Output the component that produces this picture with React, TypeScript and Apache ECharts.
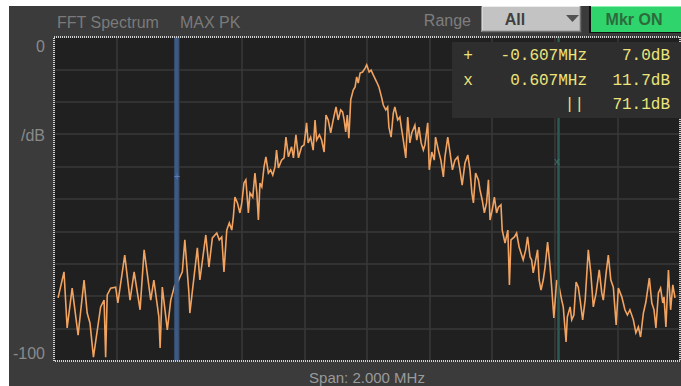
import React, { useEffect, useRef } from "react";
import * as echarts from "echarts";

// Spectrum trace (frequency offset in MHz, level in dB)
const freqMHz: number[] = [
  -0.987,-0.968,-0.958,-0.942,-0.923,-0.904,-0.894,-0.885,-0.874,-0.851,
  -0.840,-0.835,-0.830,-0.819,-0.803,-0.796,-0.774,-0.757,-0.744,-0.725,
  -0.712,-0.691,-0.681,-0.665,-0.661,-0.654,-0.638,-0.627,-0.614,-0.606,
  -0.590,-0.582,-0.569,-0.566,-0.542,-0.534,-0.515,-0.505,-0.494,-0.480,
  -0.472,-0.464,-0.457,-0.448,-0.440,-0.432,-0.427,-0.422,-0.414,-0.406,
  -0.400,-0.393,-0.387,-0.379,-0.374,-0.365,-0.358,-0.352,-0.347,-0.342,
  -0.336,-0.329,-0.323,-0.315,-0.308,-0.301,-0.294,-0.289,-0.283,-0.273,
  -0.265,-0.259,-0.251,-0.241,-0.235,-0.227,-0.219,-0.209,-0.201,-0.193,
  -0.188,-0.180,-0.172,-0.166,-0.161,-0.152,-0.145,-0.137,-0.131,-0.124,
  -0.116,-0.108,-0.099,-0.092,-0.084,-0.078,-0.073,-0.068,-0.063,-0.058,
  -0.052,-0.044,-0.038,-0.033,-0.028,-0.022,-0.014,-0.006,-0.001,0.007,
  0.013,0.020,0.031,0.038,0.047,0.052,0.060,0.066,0.070,0.077,
  0.084,0.089,0.098,0.105,0.111,0.116,0.124,0.130,0.137,0.143,
  0.153,0.159,0.166,0.173,0.180,0.185,0.194,0.199,0.207,0.215,
  0.219,0.228,0.236,0.244,0.249,0.258,0.265,0.273,0.281,0.290,
  0.297,0.304,0.313,0.322,0.329,0.335,0.340,0.347,0.356,0.361,
  0.368,0.375,0.382,0.388,0.393,0.400,0.407,0.414,0.420,0.428,
  0.432,0.441,0.450,0.455,0.460,0.471,0.478,0.486,0.492,0.499,
  0.507,0.513,0.521,0.526,0.531,0.539,0.545,0.550,0.556,0.563,
  0.569,0.577,0.585,0.590,0.597,0.606,0.614,0.622,0.627,0.636,
  0.640,0.649,0.654,0.661,0.668,0.675,0.681,0.689,0.697,0.707,
  0.715,0.723,0.732,0.742,0.750,0.755,0.764,0.771,0.779,0.787,
  0.796,0.803,0.814,0.824,0.832,0.840,0.851,0.859,0.867,0.874,
  0.883,0.891,0.902,0.910,0.917,0.923,0.931,0.938,0.945,0.949,
  0.955,0.963,0.970,0.977,0.984,
];

const levelDb: number[] = [
  -80.5,-72.5,-89.8,-77.5,-92.0,-75.0,-85.2,-88.3,-98.8,-83.3,
  -81.2,-98.8,-79.6,-77.5,-77.2,-82.1,-67.3,-81.2,-72.5,-84.2,
  -65.7,-81.2,-75.0,-86.4,-96.0,-77.2,-90.4,-81.2,-76.5,-75.9,
  -72.5,-62.6,-79.0,-85.2,-65.1,-75.0,-61.1,-71.0,-62.0,-60.5,
  -62.6,-61.7,-72.5,-59.6,-57.4,-59.6,-55.5,-49.4,-51.2,-54.3,
  -51.2,-45.1,-44.1,-54.3,-48.1,-49.4,-42.0,-48.1,-56.5,-45.1,
  -46.3,-40.1,-37.0,-42.0,-41.0,-42.6,-40.1,-34.9,-40.4,-38.0,
  -37.3,-30.9,-37.0,-33.9,-37.3,-30.2,-37.3,-33.9,-33.3,-26.5,
  -32.7,-30.9,-34.9,-25.6,-31.8,-30.2,-31.8,-35.5,-24.1,-25.6,
  -29.6,-25.6,-21.6,-25.6,-22.5,-23.1,-25.6,-29.3,-24.1,-31.2,
  -19.4,-16.4,-15.4,-12.3,-14.2,-11.1,-10.8,-9.6,-8.6,-10.8,
  -10.2,-11.7,-13.9,-15.4,-18.8,-21.0,-22.5,-21.6,-27.8,-30.9,
  -23.5,-21.6,-25.6,-24.7,-28.7,-31.8,-37.3,-24.7,-32.7,-29.6,
  -27.2,-31.8,-27.8,-32.7,-34.9,-33.3,-26.5,-41.0,-35.5,-38.0,
  -30.9,-34.9,-38.0,-43.2,-37.0,-30.9,-35.5,-41.0,-38.0,-37.0,
  -41.0,-45.7,-38.9,-36.4,-41.0,-48.1,-51.2,-42.0,-44.1,-47.2,
  -50.3,-54.3,-51.2,-44.1,-56.5,-53.4,-49.4,-54.3,-52.5,-51.8,
  -59.6,-63.6,-59.6,-76.5,-62.6,-61.7,-60.5,-64.8,-66.7,-68.8,
  -65.7,-61.7,-67.9,-68.8,-72.8,-68.8,-65.7,-75.0,-78.1,-75.0,
  -71.0,-63.3,-71.0,-77.2,-86.7,-75.0,-77.2,-81.2,-83.3,-94.1,
  -86.4,-83.3,-87.3,-85.8,-75.6,-77.2,-81.2,-87.3,-81.2,-65.7,
  -72.8,-83.3,-79.0,-71.9,-79.0,-81.2,-72.8,-67.3,-75.0,-77.2,
  -88.9,-77.5,-80.2,-84.2,-85.8,-84.2,-87.3,-91.3,-89.5,-92.6,
  -85.2,-81.8,-74.4,-82.1,-84.2,-89.8,-79.0,-77.5,-82.1,-80.2,
  -89.5,-71.9,-84.2,-76.5,-80.5,
];

// Markers
const markerFreqs: number[] = [-0.607, 0.607];
const markerLevels: number[] = [-43.2, -38.6];
const markerSymbols: string[] = ["+", "x"];

// Marker readout rows
const readoutSym: string[] = ["+", "x", ""];
const readoutFreq: string[] = ["-0.607MHz", "0.607MHz", "||"];
const readoutLevel: string[] = ["7.0dB", "11.7dB", "71.1dB"];

// Axis labels
const yTickLabels: string[] = ["0", "/dB", "-100"];
const titleTexts: string[] = ["FFT Spectrum", "MAX PK"];
const spanText = "Span: 2.000 MHz";

const SANS = "'Liberation Sans', Arial, sans-serif";
const MONO = "'Liberation Mono', 'DejaVu Sans Mono', monospace";

export default function App() {
  const ref = useRef<HTMLDivElement>(null);

  useEffect(() => {
    if (!ref.current) return;
    const chart = echarts.init(ref.current, undefined, { renderer: "svg" });

    const traceData = freqMHz.map((f, i) => [f, levelDb[i]]);
    const markerData = markerFreqs.map((f, i) => ({
      value: [f, markerLevels[i]],
      label: { formatter: markerSymbols[i], color: i === 0 ? "#6a88b8" : "#3f7d74" },
    }));

    const readoutRowsY = [50, 75, 99];
    const readoutGraphics: any[] = [];
    readoutRowsY.forEach((y, i) => {
      if (readoutSym[i])
        readoutGraphics.push({
          type: "text", x: 459, y, z: 102,
          style: { text: readoutSym[i], fill: "#ece47a", font: `16px ${MONO}`, textAlign: "center", textVerticalAlign: "middle" },
        });
      readoutGraphics.push({
        type: "text", x: i === 2 ? 575 : 578, y, z: 102,
        style: { text: readoutFreq[i], fill: "#ece47a", font: `16px ${MONO}`, textAlign: "right", textVerticalAlign: "middle" },
      });
      readoutGraphics.push({
        type: "text", x: 661, y, z: 102,
        style: { text: readoutLevel[i], fill: "#ece47a", font: `16px ${MONO}`, textAlign: "right", textVerticalAlign: "middle" },
      });
    });

    const yLabelPos = [40, 129, 347];

    chart.setOption({
      animation: false,
      backgroundColor: "#3b3b3b",
      grid: {
        left: 45, top: 31, right: 1, bottom: 25,
        show: true, backgroundColor: "#202020", borderWidth: 0,
      },
      xAxis: {
        type: "value", min: -1, max: 1, interval: 0.2,
        axisLabel: { show: false }, axisLine: { show: false }, axisTick: { show: false },
        splitLine: { show: true, lineStyle: { color: "#393939", width: 1.5 } },
      },
      yAxis: {
        type: "value", min: -100, max: 0, interval: 10,
        axisLabel: { show: false }, axisLine: { show: false }, axisTick: { show: false },
        splitLine: { show: true, lineStyle: { color: "#393939", width: 1.5 } },
      },
      series: [
        {
          type: "line",
          data: traceData,
          showSymbol: false,
          symbol: "none",
          lineStyle: { color: "#f2a360", width: 1.6, join: "miter" },
          z: 3,
          markLine: {
            silent: true,
            symbol: "none",
            label: { show: false },
            z: 4,
            data: [
              { xAxis: markerFreqs[0], lineStyle: { color: "#3d5a84", width: 4.5, type: "solid" } },
              { xAxis: markerFreqs[1], lineStyle: { color: "#2b5a55", width: 2.5, type: "solid" } },
            ],
          },
        },
        {
          type: "scatter",
          data: markerData,
          symbolSize: 0,
          z: 5,
          label: { show: true, position: "inside", fontSize: 11, fontFamily: MONO },
        },
      ],
      graphic: [
        // titles
        { type: "text", x: 48, y: 16, style: { text: titleTexts[0], fill: "#7a7a7a", font: `16px ${SANS}`, textVerticalAlign: "middle" } },
        { type: "text", x: 171, y: 16, style: { text: titleTexts[1], fill: "#7a7a7a", font: `16px ${SANS}`, textVerticalAlign: "middle" } },
        { type: "text", x: 462, y: 14, style: { text: "Range", fill: "#7e7e7e", font: `16px ${SANS}`, textAlign: "right", textVerticalAlign: "middle" } },
        // dropdown
        { type: "rect", shape: { x: 473, y: 0, width: 99, height: 26 }, style: { fill: "#c3c3c3" } },
        { type: "polyline", shape: { points: [[473, 26], [473, 0.5], [572, 0.5]] }, style: { stroke: "#ececec", lineWidth: 1, fill: "none" } },
        { type: "polyline", shape: { points: [[473, 25.5], [571.5, 25.5], [571.5, 0]] }, style: { stroke: "#6e6e6e", lineWidth: 1.5, fill: "none" } },
        { type: "text", x: 506, y: 13, style: { text: "All", fill: "#404040", font: `bold 16px ${SANS}`, textAlign: "center", textVerticalAlign: "middle" } },
        { type: "polygon", shape: { points: [[557, 9], [570, 9], [563.5, 16]] }, style: { fill: "#525252" } },
        // Mkr ON button
        { type: "rect", shape: { x: 580, y: 0, width: 92, height: 27 }, style: { fill: "#111111" } },
        { type: "rect", shape: { x: 582, y: 0, width: 90, height: 26 }, style: { fill: "#2fd46c" } },
        { type: "line", shape: { x1: 582, y1: 0.5, x2: 672, y2: 0.5 }, style: { stroke: "#8ef0b0", lineWidth: 1 } },
        { type: "text", x: 625, y: 13, style: { text: "Mkr ON", fill: "#2d6b3c", font: `bold 16px ${SANS}`, textAlign: "center", textVerticalAlign: "middle" } },
        // y labels
        ...yTickLabels.map((t, i) => ({
          type: "text", x: 36, y: yLabelPos[i],
          style: { text: t, fill: "#8a8a8a", font: `16px ${SANS}`, textAlign: "right", textVerticalAlign: "middle" },
        })),
        // span label
        { type: "text", x: 358, y: 371, style: { text: spanText, fill: "#9a9a9a", font: `15px ${SANS}`, textAlign: "center", textVerticalAlign: "middle" } },
        // dotted plot border
        { type: "rect", z: 100, shape: { x: 45, y: 31, width: 626, height: 324 }, style: { fill: "none", stroke: "#cfcfcf", lineWidth: 2, lineDash: [1, 1] } },
        // readout box
        { type: "rect", z: 101, shape: { x: 443, y: 36, width: 229, height: 76 }, style: { fill: "#2e2e2e" } },
        ...readoutGraphics,
      ],
    });

    return () => chart.dispose();
  }, []);

  return (
    <div
      ref={ref}
      style={{ position: "absolute", left: 9, top: 6, width: 672, height: 380 }}
    />
  );
}
